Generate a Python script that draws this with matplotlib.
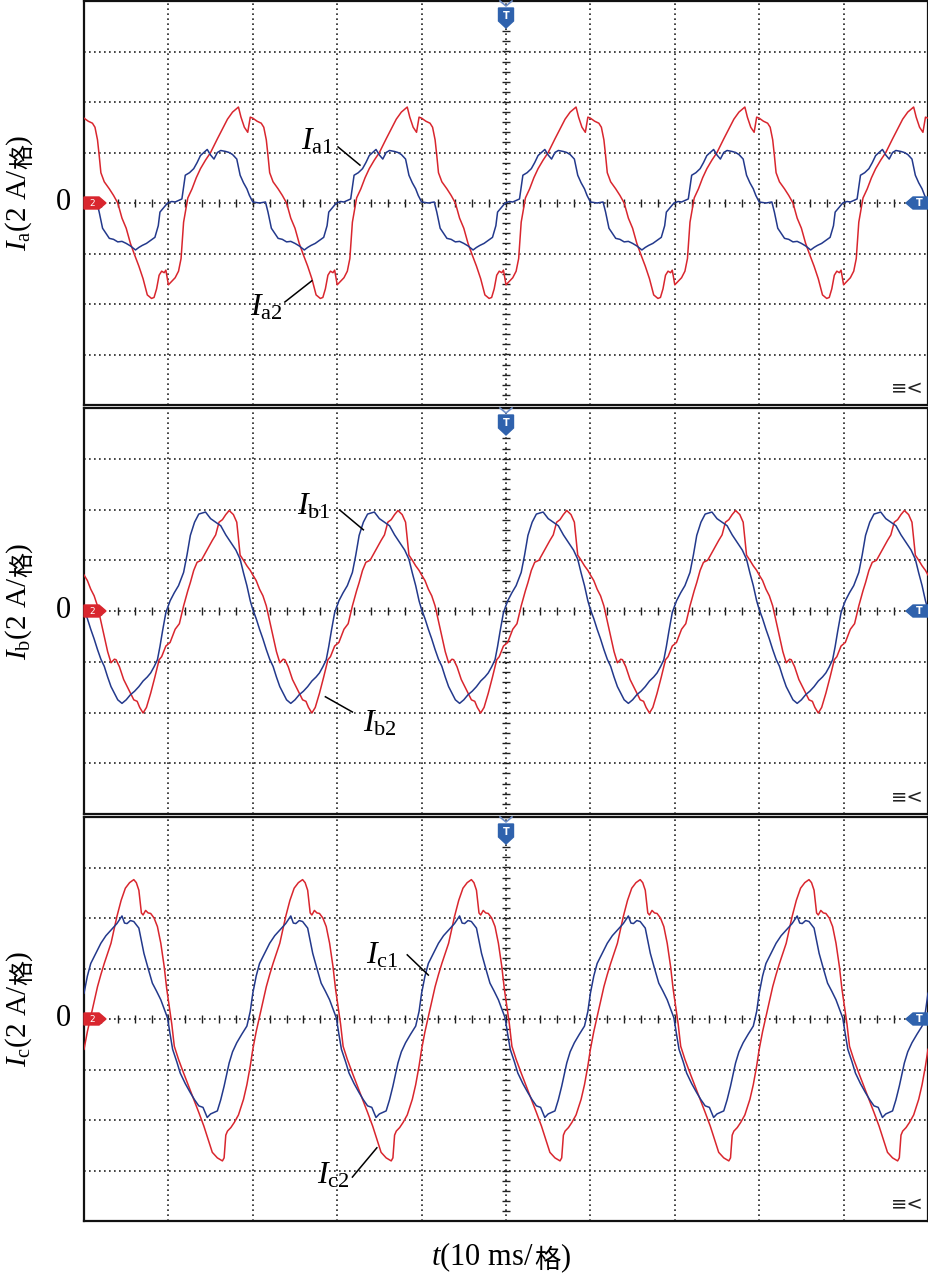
import matplotlib.pyplot as plt
import numpy as np
from matplotlib.patches import Polygon

plt.rcParams['mathtext.fontset'] = 'custom'
plt.rcParams['mathtext.rm'] = 'Liberation Serif'
plt.rcParams['mathtext.it'] = 'Liberation Serif:italic'
SERIF = 'Liberation Serif'
CJK = 'Noto Sans CJK SC'

W, H = 929, 1276
RED = '#d9262e'
BLUE = '#23398c'
MARK_BLUE = '#2f62ad'
FS = 21

PERIOD = 20.0      # ms, 50 Hz
N_PERIODS = 5      # 10 div x 10 ms

# one period of each trace: time (ms), current (div, 2 A/div)
t_a1 = [0, 0.8, 1.5, 1.8, 2.2, 2.6, 3.0, 3.5, 4.0, 4.5, 5.0, 5.5, 6.1, 6.5, 6.9, 7.4,
        7.9, 8.4, 8.8, 9.0, 9.4, 9.9, 10.4, 10.8, 11.2, 11.6, 12.0, 12.5, 13.0, 13.4,
        13.8, 14.2, 14.6, 15.0, 15.4, 15.8, 16.2, 16.8, 17.2, 17.6, 18.1, 18.5, 18.9,
        19.3, 19.6, 19.9]
ia1 = [0.02, 0.0, 0.02, -0.18, -0.5, -0.6, -0.7, -0.72, -0.77, -0.76, -0.8, -0.85,
       -0.93, -0.88, -0.84, -0.8, -0.74, -0.68, -0.45, -0.18, -0.1, 0.0, 0.03, 0.02,
       0.05, 0.08, 0.55, 0.6, 0.68, 0.8, 0.94, 1.0, 1.06, 0.95, 0.87, 1.0, 1.04, 1.02,
       1.0, 0.96, 0.87, 0.55, 0.4, 0.28, 0.15, 0.05]

t_a2 = [0, 0.5, 1.0, 1.3, 1.6, 1.8, 2.0, 2.4, 3.0, 3.5, 4.0, 4.5, 5.0, 5.5, 6.0, 6.5,
        7.0, 7.5, 8.0, 8.3, 8.6, 8.9, 9.2, 9.5, 9.7, 10.0, 10.4, 10.8, 11.2, 11.5,
        11.8, 12.3, 12.8, 13.3, 13.8, 14.4, 15.0, 15.8, 16.5, 17.0, 17.6, 18.3, 18.6,
        19.0, 19.4, 19.7]
ia2 = [1.68, 1.62, 1.58, 1.5, 1.25, 0.94, 0.6, 0.42, 0.28, 0.15, 0.0, -0.3, -0.5,
       -0.8, -1.03, -1.25, -1.5, -1.82, -1.89, -1.87, -1.7, -1.43, -1.35, -1.38, -1.33,
       -1.62, -1.55, -1.48, -1.35, -1.1, -0.38, 0.1, 0.28, 0.5, 0.68, 0.85, 1.0, 1.27,
       1.5, 1.66, 1.8, 1.9, 1.7, 1.5, 1.4, 1.7]

t_b1 = [0, 0.4, 0.8, 1.2, 1.6, 2.0, 2.4, 2.8, 3.2, 3.6, 4.0, 4.5, 5.0, 5.5, 6.0, 6.5,
        7.0, 7.5, 7.9, 8.3, 8.7, 9.0, 9.3, 9.7, 10.2, 10.7, 11.2, 11.8, 12.2, 12.6,
        13.1, 13.6, 14.0, 14.4, 15.0, 15.6, 16.2, 16.8, 17.4, 18.0, 18.5, 18.9, 19.3,
        19.7]
ib1 = [0.03, -0.15, -0.36, -0.55, -0.76, -0.95, -1.09, -1.3, -1.49, -1.62, -1.75,
       -1.82, -1.75, -1.65, -1.58, -1.49, -1.38, -1.3, -1.22, -1.1, -0.96, -0.7, -0.4,
       -0.03, 0.2, 0.36, 0.5, 0.76, 1.1, 1.49, 1.75, 1.91, 1.93, 1.95, 1.82, 1.75, 1.68,
       1.5, 1.35, 1.2, 1.02, 0.75, 0.5, 0.2]

t_b2 = [0, 0.4, 0.8, 1.2, 1.6, 2.0, 2.4, 2.8, 3.2, 3.6, 3.8, 4.2, 4.7, 5.3, 5.9, 6.3,
        6.6, 7.0, 7.4, 7.9, 8.4, 8.9, 9.2, 9.7, 10.2, 10.8, 11.3, 11.8, 12.3, 12.6,
        13.0, 13.4, 13.9, 14.4, 15.2, 15.6, 16.0, 16.4, 16.8, 17.2, 17.7, 18.1, 18.5,
        18.9, 19.3, 19.7]
ib2 = [0.71, 0.6, 0.43, 0.3, 0.1, -0.2, -0.5, -0.8, -1.02, -0.95, -0.96, -1.1, -1.35,
       -1.55, -1.75, -1.78, -1.9, -2.01, -1.9, -1.62, -1.3, -0.96, -0.9, -0.69, -0.62,
       -0.36, -0.25, 0.1, 0.4, 0.56, 0.8, 0.96, 1.0, 1.15, 1.39, 1.5, 1.75, 1.8, 1.9,
       1.98, 1.9, 1.75, 1.1, 1.0, 0.89, 0.8]

t_c1 = [0, 0.4, 0.8, 1.4, 2.0, 2.6, 3.2, 3.9, 4.5, 4.8, 5.1, 5.5, 5.9, 6.5, 7.1, 7.6,
        8.1, 8.6, 9.1, 9.5, 9.9, 10.2, 10.5, 11.0, 11.4, 12.0, 12.6, 13.1, 13.6, 14.1,
        14.6, 15.0, 15.4, 15.8, 16.2, 16.6, 17.2, 17.6, 18.1, 18.7, 19.3, 19.7]
ic1 = [0.51, 0.85, 1.1, 1.3, 1.5, 1.65, 1.76, 1.89, 2.04, 1.9, 1.89, 1.95, 1.93, 1.8,
       1.3, 1.0, 0.71, 0.55, 0.38, 0.2, 0.02, -0.3, -0.6, -0.85, -1.07, -1.28, -1.46,
       -1.6, -1.72, -1.75, -1.95, -1.88, -1.85, -1.82, -1.6, -1.33, -0.87, -0.65, -0.47,
       -0.3, -0.14, 0.15]

t_c2 = [0, 0.4, 0.8, 1.2, 1.6, 2.0, 2.4, 2.8, 3.2, 3.6, 3.9, 4.4, 4.9, 5.4, 5.9, 6.2,
        6.5, 6.8, 7.0, 7.3, 7.6, 7.9, 8.3, 8.7, 9.1, 9.5, 9.8, 10.1, 10.4, 10.7, 11.2,
        11.8, 12.4, 13.0, 13.6, 14.2, 14.7, 15.2, 15.8, 16.4, 16.6, 16.8, 17.0, 17.4,
        17.8, 18.3, 18.9, 19.3, 19.7]
ic2 = [-0.6, -0.25, 0.05, 0.35, 0.64, 0.88, 1.1, 1.3, 1.5, 1.8, 2.03, 2.35, 2.59, 2.7,
       2.76, 2.7, 2.55, 2.1, 2.06, 2.15, 2.1, 2.09, 2.0, 1.83, 1.5, 1.04, 0.6, 0.25,
       -0.1, -0.54, -0.8, -1.07, -1.33, -1.59, -1.85, -2.12, -2.38, -2.64, -2.75, -2.81,
       -2.75, -2.3, -2.22, -2.15, -2.05, -1.9, -1.59, -1.3, -0.93]

# panel rows in pixels (top, bottom)
rows = [(1, 405), (408, 814), (817, 1221)]
phases = ['a', 'b', 'c']
traces = [((t_a1, ia1), (t_a2, ia2)), ((t_b1, ib1), (t_b2, ib2)), ((t_c1, ic1), (t_c2, ic2))]

# (label, text pos, ha, leader start, leader end) in data units
notes = [
    [(r'$I_{\mathrm{a1}}$', (29.6, 1.23), 'right', (30.1, 1.11), (32.7, 0.75)),
     (r'$I_{\mathrm{a2}}$', (23.6, -2.06), 'right', (23.8, -1.96), (27.0, -1.54))],
    [(r'$I_{\mathrm{b1}}$', (29.3, 2.07), 'right', (30.3, 1.99), (33.1, 1.60)),
     (r'$I_{\mathrm{b2}}$', (33.0, -2.21), 'left', (28.6, -1.69), (31.8, -1.99))],
    [(r'$I_{\mathrm{c1}}$', (37.3, 1.27), 'right', (38.3, 1.27), (40.8, 0.87)),
     (r'$I_{\mathrm{c2}}$', (31.5, -3.09), 'right', (31.8, -3.13), (34.7, -2.55))],
]


def repeat_period(t, v):
    t = np.asarray(t, float)
    v = np.asarray(v, float)
    tt = np.concatenate([t + k * PERIOD for k in range(N_PERIODS)] + [[N_PERIODS * PERIOD]])
    vv = np.concatenate([v] * N_PERIODS + [v[:1]])
    return tt, vv


def markers(ax, wpx, hpx):
    # channel 2 reference, left edge
    px = np.array([(0, -6), (15, -6), (22, 0), (15, 6), (0, 6)], float)
    ax.add_patch(Polygon(np.c_[px[:, 0] / wpx, 0.5 + px[:, 1] / hpx], closed=True,
                         transform=ax.transAxes, color=RED, zorder=6, clip_on=False))
    ax.text(8 / wpx, 0.5, '2', transform=ax.transAxes, color='white', fontsize=6.5,
            ha='center', va='center', zorder=7)
    # trigger level, right edge
    px = np.array([(0, -6), (-15, -6), (-22, 0), (-15, 6), (0, 6)], float)
    ax.add_patch(Polygon(np.c_[1 + px[:, 0] / wpx, 0.5 + px[:, 1] / hpx], closed=True,
                         transform=ax.transAxes, color=MARK_BLUE, zorder=6, clip_on=False))
    ax.text(1 - 9 / wpx, 0.5, 'T', transform=ax.transAxes, color='white', fontsize=7,
            fontweight='bold', ha='center', va='center', zorder=7)
    # trigger position, top
    px = np.array([(-7.5, 7), (7.5, 7), (7.5, 20), (0, 27), (-7.5, 20)], float)
    ax.add_patch(Polygon(np.c_[0.5 + px[:, 0] / wpx, 1 - px[:, 1] / hpx], closed=True,
                         transform=ax.transAxes, color=MARK_BLUE, zorder=6, clip_on=False))
    ax.text(0.5, 1 - 15 / hpx, 'T', transform=ax.transAxes, color='white', fontsize=7,
            fontweight='bold', ha='center', va='center', zorder=7)
    ch = np.array([(-6, 0), (0, 5), (6, 0)], float)
    ax.plot(0.5 + ch[:, 0] / wpx, 1 - ch[:, 1] / hpx, transform=ax.transAxes,
            color='#6f8fc8', lw=1.2, zorder=7, clip_on=False)
    ax.text(1 - 21 / wpx, 17 / hpx, '≡<', transform=ax.transAxes, fontsize=14,
            ha='center', va='center', color='#222')


def chain(fig, pieces, centre, base, vertical, renderer):
    """Lay text pieces end to end, centred on `centre` (px along the text)."""
    texts = []
    for s, fam, size, shift in pieces:
        kw = dict(family=fam, fontsize=size, ha='left', va='baseline')
        if vertical:
            kw.update(rotation=90, rotation_mode='anchor')
        texts.append((fig.text(0, 0, s, **kw), shift))
    lens = []
    for t, _ in texts:
        bb = t.get_window_extent(renderer)
        lens.append(bb.height if vertical else bb.width)
    pos = centre - sum(lens) / 2
    for (t, shift), n in zip(texts, lens):
        if vertical:
            t.set_position(((base + shift) / W, pos / H))
        else:
            t.set_position((pos / W, 1 - (base + shift) / H))
        pos += n


fig = plt.figure(figsize=(W / 100, H / 100), dpi=100)
left, right = 84, 928
renderer = fig.canvas.get_renderer()

for (top, bot), ph, tr, nts in zip(rows, phases, traces, notes):
    ax = fig.add_axes([left / W, 1 - bot / H, (right - left) / W, (bot - top) / H])
    ax.set_xlim(0, 100)
    ax.set_ylim(-4, 4)
    ax.set_xticks([])
    ax.set_yticks([])
    for s in ax.spines.values():
        s.set_linewidth(1.6)
        s.set_color('#111')

    for x in range(10, 100, 10):
        ax.axvline(x, color='#222', lw=1.2, ls=(0, (1, 2)), zorder=1)
    for y in range(-3, 4):
        ax.axhline(y, color='#222', lw=1.2, ls=(0, (1, 2)), zorder=1)
    ax.vlines(np.arange(0, 100.1, 2), -0.07, 0.07, color='#222', lw=1.0, zorder=1)
    ax.hlines(np.arange(-4, 4.01, 0.2), 49.5, 50.5, color='#222', lw=1.0, zorder=1)

    (t1, v1), (t2, v2) = tr
    tt, vv = repeat_period(t2, v2)
    ax.plot(tt, vv, color=RED, lw=1.1, zorder=3)
    tt, vv = repeat_period(t1, v1)
    ax.plot(tt, vv, color=BLUE, lw=1.1, zorder=4)

    for lab, pos, ha, p0, p1 in nts:
        ax.text(pos[0], pos[1], lab, ha=ha, va='center', fontsize=23, zorder=5)
        ax.plot([p0[0], p1[0]], [p0[1], p1[1]], color='k', lw=1.1, zorder=5)

    markers(ax, right - left, bot - top)

    yc = (top + bot) / 2
    fig.text(63 / W, 1 - yc / H, '0', ha='center', va='center', fontsize=22, family=SERIF)

    # rotated y label: italic I with subscript, the unit, and the CJK 格
    chain(fig, [(r'$I_{\mathrm{%s}}$(2 A/' % ph, SERIF, FS, 0),
                ('格', CJK, 18, 4),
                (')', SERIF, FS, 0)],
          H - (yc - 10), 26, True, renderer)

chain(fig, [(r'$t$(10 ms/', SERIF, 22, 0), ('格', CJK, 19, 3), (')', SERIF, 22, 0)],
      501, 1265, False, renderer)

fig.savefig('out.png', dpi=100)
